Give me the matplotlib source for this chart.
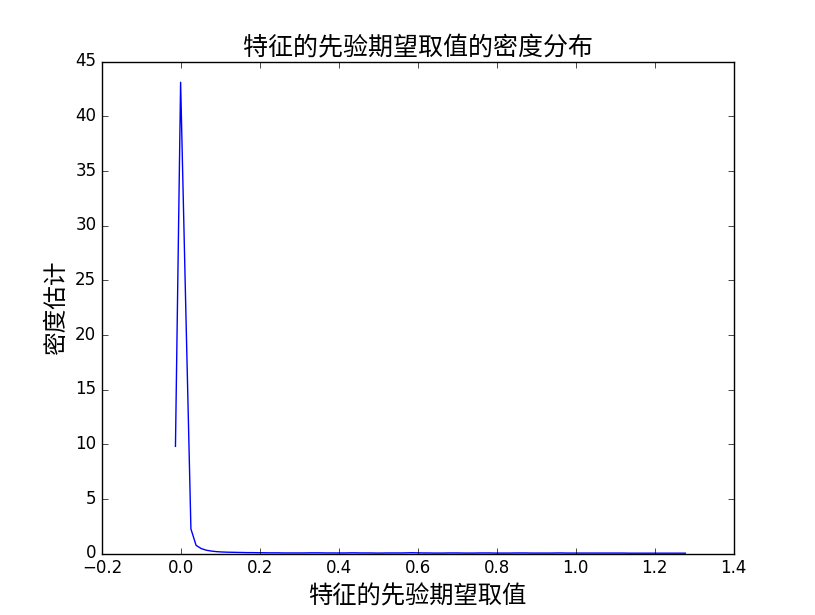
import numpy as np
import matplotlib
matplotlib.use("Agg")
import matplotlib.pyplot as plt

plt.style.use("classic")
plt.rcParams["font.family"] = ["Noto Sans CJK SC", "DejaVu Sans"]
plt.rcParams["axes.unicode_minus"] = True

# 核密度估计的取值网格（最小值、最大值、点数）
x_min, x_max, n_points = -0.0136, 1.278, 100

# 各网格点上的密度估计值
density_head = [9.8, 43.1, 22.5, 2.25, 0.75, 0.45, 0.30, 0.22, 0.17, 0.14,
                0.12, 0.11]
density_tail = [0.10, 0.09, 0.08, 0.08, 0.07, 0.07, 0.06, 0.06, 0.06, 0.05,
                0.05, 0.05, 0.05, 0.05, 0.06, 0.06, 0.06, 0.05, 0.05, 0.05,
                0.05, 0.05, 0.06, 0.06, 0.05, 0.05, 0.05, 0.04, 0.04, 0.05,
                0.05, 0.05, 0.05, 0.06, 0.07, 0.06, 0.05, 0.05, 0.04, 0.04,
                0.04, 0.05, 0.05, 0.05, 0.04, 0.04, 0.04, 0.05, 0.05, 0.05,
                0.04, 0.04, 0.04, 0.04, 0.05, 0.05, 0.05, 0.04, 0.04, 0.04,
                0.04, 0.04, 0.05, 0.05, 0.04, 0.04, 0.04, 0.04, 0.04, 0.04,
                0.04, 0.04, 0.04, 0.04, 0.04, 0.04, 0.03, 0.03, 0.03, 0.03,
                0.03, 0.03, 0.03, 0.03, 0.03, 0.03, 0.03, 0.03]

title_text = "特征的先验期望取值的密度分布"
xlabel_text = "特征的先验期望取值"
ylabel_text = "密度估计"

grid = np.linspace(x_min, x_max, n_points)
density = np.array(density_head + density_tail)

fig = plt.figure(figsize=(8.15, 6.15), dpi=100, facecolor="white")
ax = fig.add_axes([0.125, 0.1, 0.775, 0.8])
ax.plot(grid, density, color="b", linewidth=1.0)

ax.set_xlim(-0.2, 1.4)
ax.set_ylim(0, 45)
ax.set_xticks(np.arange(-0.2, 1.41, 0.2))
ax.set_yticks(np.arange(0, 46, 5))
ax.tick_params(labelsize=12)
for lab in ax.get_xticklabels() + ax.get_yticklabels():
    lab.set_family("DejaVu Sans")

ax.set_title(title_text, fontsize=18)
ax.set_xlabel(xlabel_text, fontsize=17.5)
ax.set_ylabel(ylabel_text, fontsize=17)

fig.savefig("out.png", dpi=100, facecolor="white")
